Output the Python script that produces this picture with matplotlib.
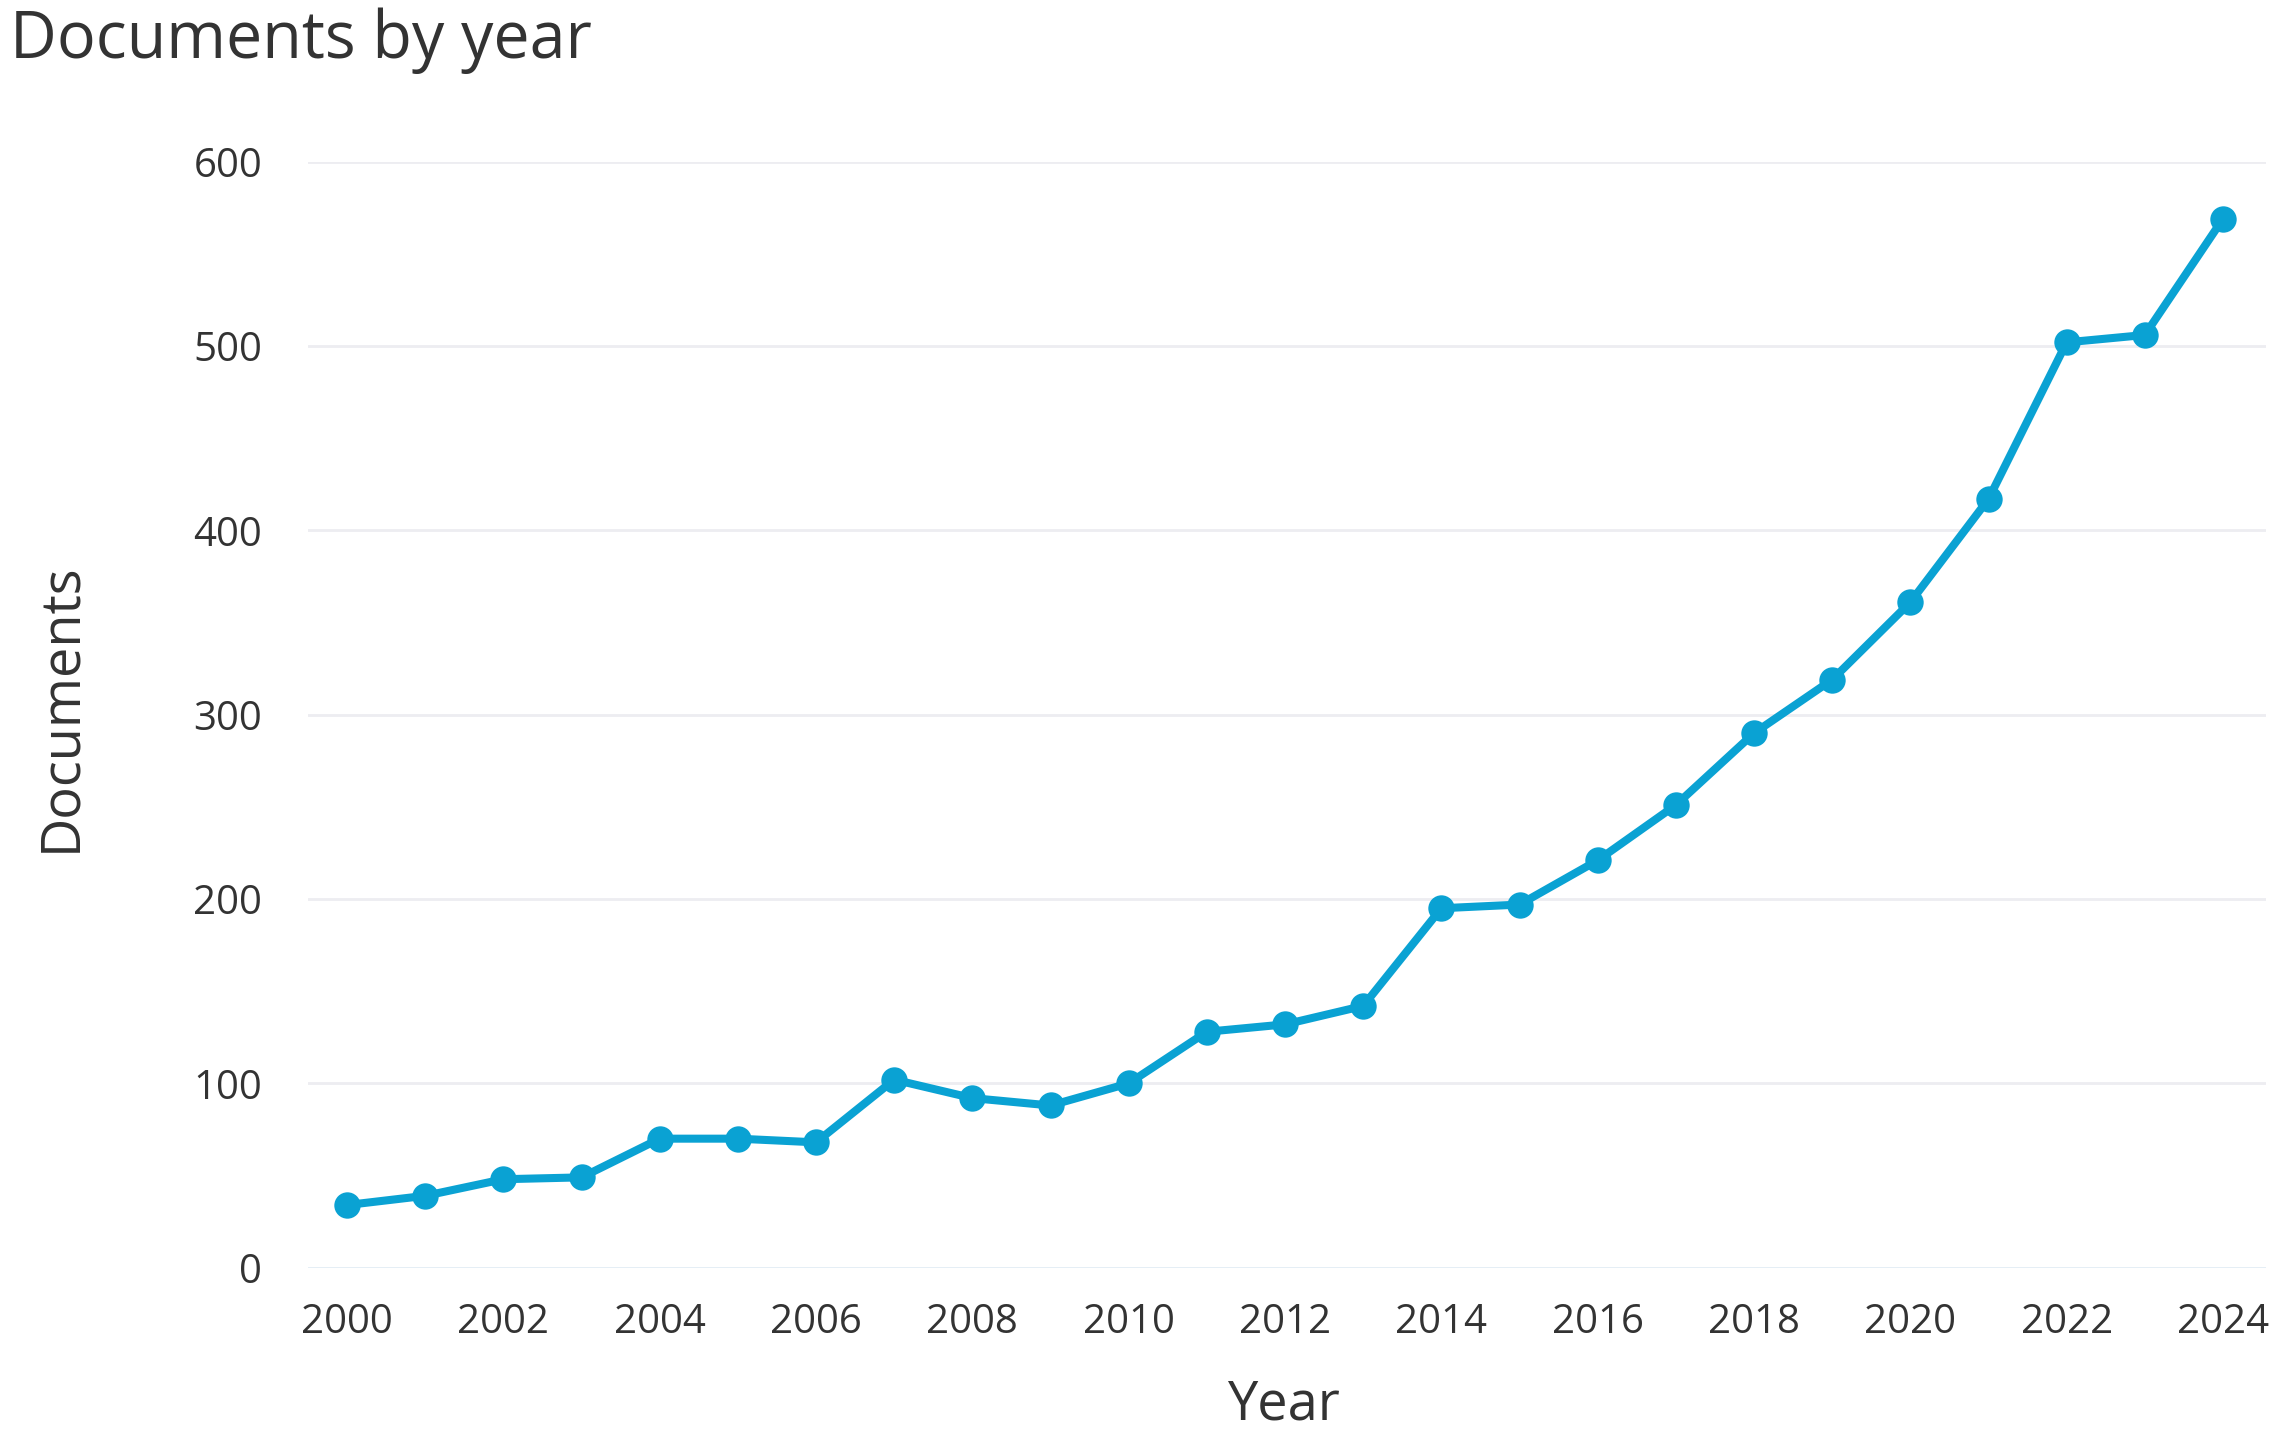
import matplotlib
matplotlib.use("Agg")
import matplotlib.pyplot as plt

# ---- data ----
years = [2000, 2001, 2002, 2003, 2004, 2005, 2006, 2007, 2008, 2009, 2010, 2011,
         2012, 2013, 2014, 2015, 2016, 2017, 2018, 2019, 2020, 2021, 2022, 2023, 2024]
documents = [34, 39, 48, 49, 70, 70, 68, 102, 92, 88, 100, 128,
             132, 142, 195, 197, 221, 251, 290, 319, 361, 417, 502, 506, 569]
x_ticks = list(range(2000, 2025, 2))
y_ticks = [0, 100, 200, 300, 400, 500, 600]
title = "Documents by year"
x_label = "Year"
y_label = "Documents"

# ---- style ----
W, H, DPI = 2283, 1438, 100
TEXT = "#333333"
LINE = "#0aa2d3"
plt.rcParams["font.family"] = ["Open Sans", "DejaVu Sans"]

fig = plt.figure(figsize=(W / DPI, H / DPI), dpi=DPI)
fig.patch.set_facecolor("white")

left, right = 308 / W, 2266 / W
top, bottom = 1 - 161.7 / H, 1 - 1267.7 / H
ax = fig.add_axes([left, bottom, right - left, top - bottom])

ax.plot(years, documents, color=LINE, lw=5.8, marker="o", ms=19,
        markeredgewidth=0, clip_on=False, zorder=3)

ax.set_xlim(1999.5, 2024.55)
ax.set_ylim(0, 600)
ax.set_xticks(x_ticks)
ax.set_yticks(y_ticks)
ax.tick_params(axis="both", length=0, labelsize=29, labelcolor=TEXT)
ax.tick_params(axis="x", pad=25)
ax.tick_params(axis="y", pad=33)

for s in ax.spines.values():
    s.set_visible(False)
ax.grid(axis="y", color="#ededf1", lw=2)
ax.grid(axis="x", visible=False)
ax.set_axisbelow(True)
ax.get_ygridlines()[0].set_color("#e2ecf4")

fig.text(10 / W, 1 - 58 / H, title, fontsize=46.5, color=TEXT,
         ha="left", va="baseline")
fig.text(1283 / W, 1 - 1420 / H, x_label, fontsize=39, color=TEXT,
         ha="center", va="baseline")
fig.text(75 / W, 1 - 707 / H, y_label, fontsize=39, color=TEXT,
         rotation=90, rotation_mode="anchor", ha="center", va="baseline")

fig.savefig("out.png", dpi=DPI, facecolor="white")
